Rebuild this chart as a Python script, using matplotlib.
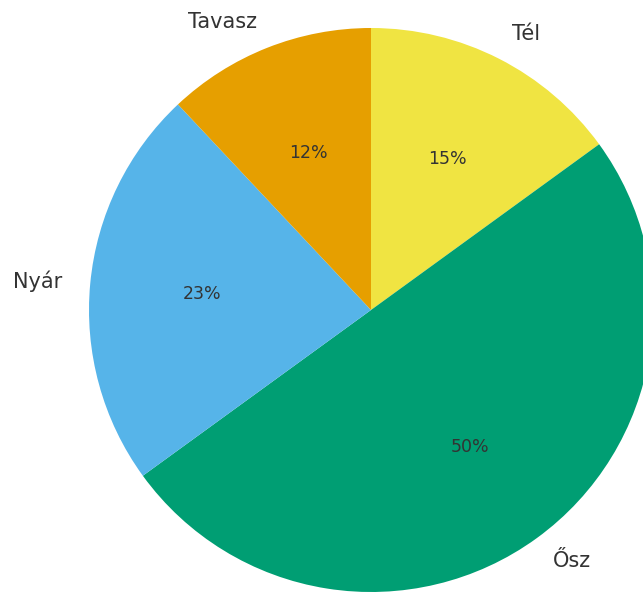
import matplotlib
matplotlib.use("Agg")
import matplotlib.pyplot as plt

labels = ["Tél", "Ősz", "Nyár", "Tavasz"]
values = [15, 50, 23, 12]
colors = ["#F0E442", "#009E73", "#56B4E9", "#E69F00"]

W, H = 643, 592
fig = plt.figure(figsize=(W / 100, H / 100), dpi=100)
ax = fig.add_axes([0, 0, 1, 1])

wedges, texts, autotexts = ax.pie(
    values, labels=labels, colors=colors, startangle=90, counterclock=False,
    autopct="%1.0f%%", pctdistance=0.6, labeldistance=1.1,
    textprops={"color": "#333333"},
)
for t in texts:
    t.set_fontsize(15)
for t in autotexts:
    t.set_fontsize(12.5)

cx, cy, r = 371, 310, 282
ax.set_aspect("auto")
ax.set_xlim(-cx / r, (W - cx) / r)
ax.set_ylim(-(H - cy) / r, cy / r)
ax.axis("off")

fig.savefig("out.png", dpi=100)
